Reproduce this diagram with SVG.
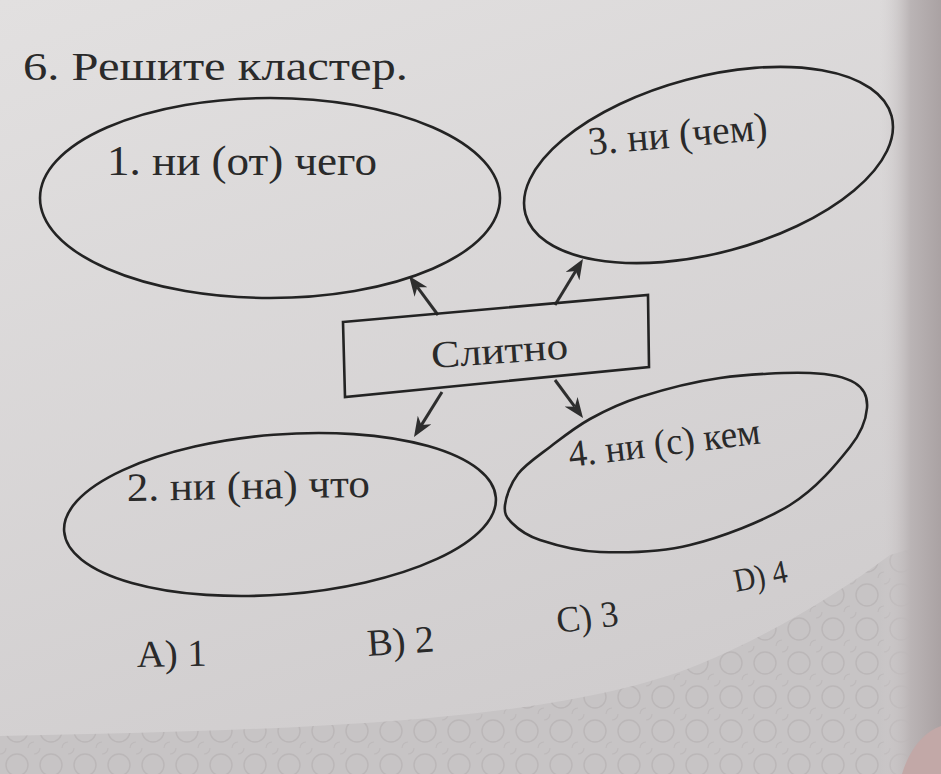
<svg xmlns="http://www.w3.org/2000/svg" width="941" height="774" viewBox="0 0 941 774">
  <defs>
    <linearGradient id="page" x1="0" y1="0" x2="0.4" y2="1">
      <stop offset="0" stop-color="#e2e0e0"/>
      <stop offset="1" stop-color="#d0cdce"/>
    </linearGradient>
    <linearGradient id="edge" x1="0" y1="0" x2="1" y2="0">
      <stop offset="0" stop-color="#d4d0d1" stop-opacity="0"/>
      <stop offset="0.5" stop-color="#bab4b5"/>
      <stop offset="1" stop-color="#aaa2a3"/>
    </linearGradient>
    <pattern id="lace" width="34" height="34" patternUnits="userSpaceOnUse">
      <rect width="34" height="34" fill="#c7c4c5"/>
      <circle cx="17" cy="17" r="11" fill="none" stroke="#bbb7b8" stroke-width="1.4"/>
      <circle cx="0" cy="0" r="6" fill="none" stroke="#bebabb" stroke-width="1.1"/>
      <circle cx="34" cy="34" r="6" fill="none" stroke="#bebabb" stroke-width="1.1"/>
    </pattern>
    <marker id="ah" viewBox="0 0 20 16" refX="6" refY="8" markerWidth="20" markerHeight="16" orient="auto" markerUnits="userSpaceOnUse">
      <path d="M0,0 L20,8 L0,16 L6,8 Z" fill="#2e2e2e"/>
    </marker>
    <style>
      .shape { fill: none; stroke: #232323; stroke-width: 2.6; }
      .lbl { font-family: "Liberation Serif", "DejaVu Serif", serif; fill: #2a2a2a; }
      .conn { stroke: #2e2e2e; stroke-width: 3; fill: none; marker-end: url(#ah); }
    </style>
  </defs>

  <!-- page background -->
  <rect x="0" y="0" width="941" height="774" fill="url(#page)"/>
  <path d="M0,736 C300,730 560,722 700,664 C780,630 840,592 890,555 L941,540 L941,774 L0,774 Z" fill="url(#lace)"/>
  <rect x="880" y="0" width="61" height="774" fill="url(#edge)"/>
  <path d="M902,774 C910,748 924,732 941,726 L941,774 Z" fill="#c2a8a7"/>

  <!-- title -->
  <text class="lbl" x="23" y="80" font-size="40" textLength="385" lengthAdjust="spacingAndGlyphs">6. Решите кластер.</text>

  <!-- connectors -->
  <g id="connectors">
    <line class="conn" x1="438" y1="315" x2="417.4" y2="287.2"/>
    <line class="conn" x1="555" y1="305" x2="575.7" y2="271"/>
    <line class="conn" x1="442" y1="392" x2="421.4" y2="425.1"/>
    <line class="conn" x1="555" y1="380" x2="574.7" y2="406.7"/>
  </g>

  <!-- center node -->
  <g id="node-center">
    <polygon class="shape" points="343,322 648,295 649,367 345,397"/>
    <text class="lbl" x="432" y="368" font-size="38" textLength="137" lengthAdjust="spacingAndGlyphs" transform="rotate(-4 432 368)">Слитно</text>
  </g>

  <!-- node 1 -->
  <g id="node-1">
    <ellipse class="shape" cx="270" cy="198" rx="230" ry="100"/>
    <text class="lbl" x="107" y="175" font-size="42" textLength="270" lengthAdjust="spacingAndGlyphs">1. ни (от) чего</text>
  </g>

  <!-- node 3 -->
  <g id="node-3">
    <ellipse class="shape" cx="708.5" cy="165" rx="189.5" ry="88" transform="rotate(-15 708.5 165)"/>
    <text class="lbl" x="589" y="155" font-size="40" textLength="180" lengthAdjust="spacingAndGlyphs" transform="rotate(-5 589 155)">3. ни (чем)</text>
  </g>

  <!-- node 2 -->
  <g id="node-2">
    <ellipse class="shape" cx="280" cy="514.5" rx="216.5" ry="80" transform="rotate(-4.5 280 514.5)"/>
    <text class="lbl" x="127" y="501" font-size="40" textLength="243" lengthAdjust="spacingAndGlyphs" transform="rotate(-1 127 501)">2. ни (на) что</text>
  </g>

  <!-- node 4 -->
  <g id="node-4">
    <path class="shape" d="M505,505 C506,496.83 510.5,483.67 518,474 C525.5,464.33 538,456.17 550,447 C562,437.83 575,427.33 590,419 C605,410.67 618.33,403.83 640,397 C661.67,390.17 691.67,382 720,378 C748.33,374 787.5,372.17 810,373 C832.5,373.83 845.5,377.17 855,383 C864.5,388.83 867.83,397.33 867,408 C866.17,418.67 862.83,430.83 850,447 C837.17,463.17 816.67,488.67 790,505 C763.33,521.33 721.67,537.17 690,545 C658.33,552.83 625,552.83 600,552 C575,551.17 554.67,544.83 540,540 C525.33,535.17 517.83,528.83 512,523 C506.17,517.17 504,513.17 505,505 Z"/>
    <text class="lbl" x="570" y="467" font-size="38" textLength="193" lengthAdjust="spacingAndGlyphs" transform="rotate(-7 570 467)">4. ни (с) кем</text>
  </g>

  <!-- answer options -->
  <g id="answers">
    <text class="lbl" x="137" y="667" font-size="38" textLength="70" lengthAdjust="spacingAndGlyphs" transform="rotate(-1 137 667)">A) 1</text>
    <text class="lbl" x="368" y="656" font-size="38" textLength="67" lengthAdjust="spacingAndGlyphs" transform="rotate(-4 368 656)">B) 2</text>
    <text class="lbl" x="558" y="633" font-size="37" textLength="62" lengthAdjust="spacingAndGlyphs" transform="rotate(-7 558 633)">C) 3</text>
    <text class="lbl" x="736" y="592" font-size="33" textLength="54" lengthAdjust="spacingAndGlyphs" transform="rotate(-11 736 592)">D) 4</text>
  </g>
</svg>
